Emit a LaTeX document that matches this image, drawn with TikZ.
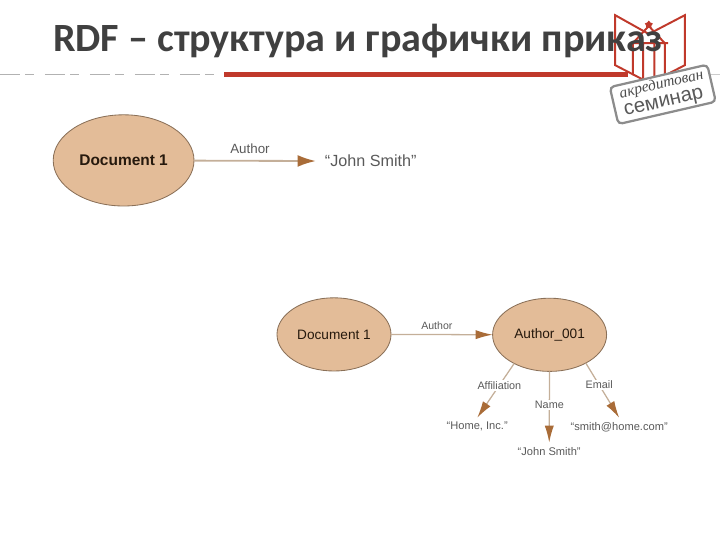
\documentclass[tikz,border=0pt]{standalone}
\usepackage{fontspec}
\setmainfont{Liberation Sans}
\newfontfamily\titlefont{Carlito}
\newfontfamily\stampfont{Liberation Serif}
\usepackage{tkz-graph}
\usetikzlibrary{arrows.meta,shapes.geometric}
\definecolor{oval}{HTML}{E3BC98}
\definecolor{ovalline}{HTML}{8A7058}
\definecolor{tip}{HTML}{A96C38}
\definecolor{shaft}{HTML}{C4AF99}
\definecolor{logored}{HTML}{C0392B}
\definecolor{stampgrey}{HTML}{8C8C8C}
\definecolor{titlegrey}{HTML}{404040}
\tikzset{
    ovalbase/.style={shape=ellipse, draw=ovalline, line width=.6pt, fill=oval, text=black!80!brown, inner sep=0pt},
    litbase/.style={shape=rectangle, draw=none, fill=none, inner sep=0pt, text=black!65}
}

\begin{document}
\begin{tikzpicture}
        \useasboundingbox (0,0) rectangle (18,13.5);
        % logo
        \draw[logored, line width=1.4pt, line join=miter]
            (15.38,13.12) -- (16.22,12.65) -- (17.12,13.12) -- (17.12,11.87) -- (16.25,11.42)
            -- (15.38,11.87) -- cycle;
        \draw[logored, line width=1.4pt] (15.82,11.62) -- (15.82,12.42) -- (16.22,12.85) -- (16.62,12.42) -- (16.62,11.62)
            (16.08,11.5) -- (16.08,12.42) (16.36,11.5) -- (16.36,12.42) (15.75,12.42) -- (16.7,12.42);
        \node[star, fill=logored, minimum size=6pt, inner sep=0pt] (logostar) at (16.22,12.88) {};
        % rule under the title
        \fill[logored] (5.6,11.58) rectangle (15.7,11.69);
        \draw[gray!60, line width=.5pt, dash pattern=on 14pt off 4pt on 6pt off 8pt] (0,11.65) -- (5.6,11.65);
        \draw[gray!40, line width=.4pt] (17,11.65) -- (18,11.65);
        \node[text=titlegrey, font=\titlefont\bfseries\fontsize{28.5}{30}\selectfont, anchor=west, inner sep=0pt] (title)
            at (1.32,12.47) {RDF – структура и графички приказ};
        % stamp
        \node[rotate=13, draw=stampgrey, line width=1.6pt, rounded corners=3pt, fill=white, minimum width=2.5cm, minimum height=.95cm] (stamp)
            at (16.57,11.14) {};
        \node[rotate=13, text=black!70, font=\stampfont\itshape\fontsize{11}{12}\selectfont, inner sep=0pt] (stampa)
            at (16.54,11.38) {акредитован};
        \node[rotate=13, text=black!65, font=\fontsize{14.5}{16}\selectfont, inner sep=0pt] (stampb)
            at (16.6,10.91) {семинар};
        % graphs
        \SetUpEdge[lw = 1pt,
        color = shaft,
        labelcolor = white]
        \GraphInit[vstyle=Normal]
        \tikzset{VertexStyle/.style={ovalbase, font=\fontsize{11}{12}\selectfont\bfseries, minimum width=3.52cm, minimum height=2.28cm}}
        \Vertex[x=3.09, y=9.49, L={Document 1}]{DocA}
        \tikzset{VertexStyle/.style={litbase, font=\fontsize{11.5}{12}\selectfont, minimum width=2.75cm, minimum height=.5cm}}
        \Vertex[x=9.27, y=9.47, L={“John Smith”}]{LitA}
        \tikzset{VertexStyle/.style={ovalbase, font=\fontsize{9.7}{11}\selectfont, minimum width=2.85cm, minimum height=1.83cm}}
        \Vertex[x=8.35, y=5.14, L={Document 1}]{DocB}
        \Vertex[x=13.74, y=5.13, L={Author\_001}]{AuthB}
        \tikzset{VertexStyle/.style={litbase, font=\fontsize{7.9}{9}\selectfont, minimum height=.45cm}}
        \Vertex[x=11.93, y=2.83, L={“Home, Inc.”}]{HomeB}
        \Vertex[x=13.73, y=2.21, L={“John Smith”}]{NameB}
        \Vertex[x=15.48, y=2.83, L={“smith@home.com”}]{MailB}
        \tikzset{EdgeStyle/.style={line width=1.3pt, -{Latex[length=13pt,width=8.5pt,color=tip]}}}
        \tikzset{LabelStyle/.style={fill=none, inner sep=1pt, text=black!65, yshift=8.5pt, xshift=-3.5pt, font=\fontsize{9.5}{10}\selectfont}}
        \Edge[label=Author](DocA)(LitA)
        \tikzset{EdgeStyle/.style={line width=.9pt, -{Latex[length=12pt,width=6.5pt,color=tip]}}}
        \tikzset{LabelStyle/.append style={yshift=-2pt, font=\fontsize{7.5}{9}\selectfont}}
        \Edge[label=Author](DocB)(AuthB)
        \tikzset{LabelStyle/.style={fill=white, inner sep=1pt, text=black!65, pos=.4, font=\fontsize{7.7}{9}\selectfont}}
        \Edge[label=Affiliation](AuthB.219)(HomeB.north)
        \Edge[label=Email](AuthB.-38)(MailB.north)
        \tikzset{LabelStyle/.append style={pos=.47}}
        \Edge[label=Name](AuthB)(NameB)
    \end{tikzpicture}
\end{document}
